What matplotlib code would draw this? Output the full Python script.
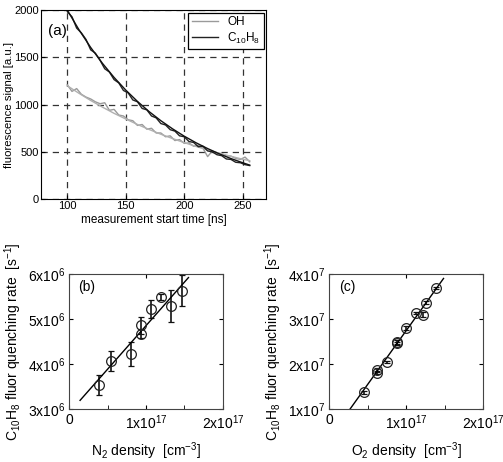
import numpy as np
import matplotlib
matplotlib.use('Agg')
import matplotlib.pyplot as plt

plt.rcParams['font.family'] = ['Liberation Sans', 'DejaVu Sans']
plt.rcParams['mathtext.fontset'] = 'custom'
plt.rcParams['mathtext.rm'] = 'Liberation Sans'
plt.rcParams['mathtext.it'] = 'Liberation Sans:italic'

# (a) fluorescence decay, signal every 4 ns
t_sig = np.arange(100, 257, 4)
c10h8_sig = [1985, 1930, 1810, 1760, 1690, 1580, 1545, 1470, 1380, 1345,
             1265, 1230, 1150, 1125, 1050, 1030, 960, 945, 880, 860,
             800, 785, 735, 720, 670, 660, 610, 600, 555, 560,
             510, 500, 470, 460, 425, 420, 390, 385, 365, 355]
oh_sig = [1210, 1140, 1170, 1110, 1080, 1060, 1030, 1010, 1020, 940,
          950, 890, 880, 840, 830, 780, 790, 740, 750, 700,
          700, 660, 670, 620, 630, 590, 595, 560, 570, 540,
          450, 510, 490, 480, 460, 455, 430, 420, 445, 395]
t_fit = [100, 110, 120, 130, 140, 150, 160, 170, 180, 190, 200, 210, 220, 230, 240, 250, 256]
c10h8_fit = [2000, 1792, 1605, 1438, 1288, 1154, 1034, 926, 830, 744, 666, 597, 535, 479, 429, 385, 360]
oh_fit = [1200, 1120, 1044, 974, 908, 848, 790, 737, 687, 641, 598, 558, 520, 485, 453, 422, 407]

# (b) N2 quenching, x in 1e17 cm^-3, y in 1e6 s^-1
n2_dens = [0.387, 0.539, 0.809, 0.935, 0.939, 1.06, 1.19, 1.326, 1.465]
n2_rate = [3.53, 4.07, 4.22, 4.87, 4.68, 5.22, 5.49, 5.29, 5.64]
n2_err = [0.22, 0.22, 0.27, 0.19, 0.10, 0.20, 0.07, 0.36, 0.34]
n2_fit_x = [0.139, 1.552]
n2_fit_y = [3.19, 5.93]

# (c) O2 quenching, x in 1e17 cm^-3, y in 1e7 s^-1
o2_dens = [0.448, 0.617, 0.617, 0.748, 0.878, 0.878, 1.004, 1.13, 1.213, 1.26, 1.39]
o2_rate = [1.366, 1.87, 1.81, 2.045, 2.49, 2.46, 2.81, 3.14, 3.10, 3.37, 3.70]
o2_err = [0.03, 0.05, 0.04, 0.03, 0.05, 0.04, 0.04, 0.03, 0.06, 0.04, 0.03]
o2_fit_x = [0.27, 1.487]
o2_fit_y = [1.0, 3.91]

fig = plt.figure(figsize=(5.03, 4.62), dpi=100)

# panel (a)
ax = fig.add_axes([0.0815, 0.569, 0.4475, 0.409])
ax.plot(t_sig, oh_sig, color='#9a9a9a', lw=1.0, label='OH')
ax.plot(t_fit, oh_fit, color='#b0b0b0', lw=1.0)
ax.plot(t_sig, c10h8_sig, color='#222222', lw=1.0, label=r'C$_{10}$H$_8$')
ax.plot(t_fit, c10h8_fit, color='#111111', lw=1.0)
ax.set_xlim(77.5, 270)
ax.set_ylim(0, 2000)
ax.set_xticks([100, 150, 200, 250])
ax.set_yticks([0, 500, 1000, 1500, 2000])
ax.grid(True, color='#333333', linestyle=(0, (5, 4)), linewidth=0.9)
ax.tick_params(direction='in', length=3, labelsize=8, pad=1.5)
ax.set_xlabel('measurement start time [ns]', fontsize=8.5, labelpad=2)
ax.set_ylabel('fluorescence signal [a.u.]', fontsize=8.2, labelpad=0.5)
ax.text(0.03, 0.87, '(a)', transform=ax.transAxes, fontsize=11)
leg = ax.legend(loc='upper right', fontsize=8.5, fancybox=False, framealpha=1,
                edgecolor='black', borderaxespad=0.2, handlelength=2.2,
                borderpad=0.3, labelspacing=0.2)
leg.get_frame().set_linewidth(0.9)


def sci_fmt(v, p):
    if v == 0:
        return '0'
    return r'$%d\mathrm{x}10^{%d}$' % (v, p)


def quench_panel(rect, x, y, err, fx, fy, ylo, yhi, p, tag, gas):
    a = fig.add_axes(rect)
    a.errorbar(x, y, yerr=err, fmt='o', mfc='none', mec='#222222', ms=7,
               mew=0.9, ecolor='#111111', elinewidth=1.2, capsize=2.5, capthick=1.2)
    a.plot(fx, fy, color='black', lw=1.0)
    a.set_xlim(0, 2)
    a.set_ylim(ylo, yhi)
    a.set_xticks([0, 1, 2])
    a.set_xticklabels([sci_fmt(v, 17) for v in [0, 1, 2]])
    a.set_xticks([0.5, 1.5], minor=True)
    yt = list(range(ylo, yhi + 1))
    a.set_yticks(yt)
    a.set_yticklabels([sci_fmt(v, p) for v in yt])
    a.tick_params(direction='in', length=3, labelsize=10, top=True, right=True, pad=3)
    a.tick_params(which='minor', direction='in', length=3, top=False)
    a.set_xlabel(gas + r' density  [cm$^{-3}$]', fontsize=10, labelpad=6)
    a.set_ylabel(r'C$_{10}$H$_8$ fluor quenching rate  [s$^{-1}$]', fontsize=10, labelpad=3)
    a.text(0.06, 0.88, tag, transform=a.transAxes, fontsize=10)
    for s in a.spines.values():
        s.set_color('#444444')
    return a


quench_panel([0.138, 0.115, 0.305, 0.291], n2_dens, n2_rate, n2_err,
             n2_fit_x, n2_fit_y, 3, 6, 6, '(b)', r'N$_2$')
quench_panel([0.655, 0.115, 0.305, 0.291], o2_dens, o2_rate, o2_err,
             o2_fit_x, o2_fit_y, 1, 4, 7, '(c)', r'O$_2$')

fig.savefig('out.png', dpi=100)
